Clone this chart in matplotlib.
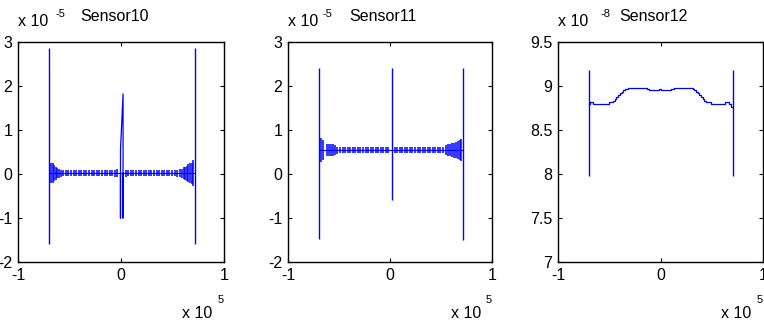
import numpy as np
import matplotlib
matplotlib.use('Agg')
import matplotlib.pyplot as plt

plt.rcParams['font.family'] = ['Liberation Sans', 'DejaVu Sans']
plt.rcParams['axes.unicode_minus'] = False

titles = ['Sensor10', 'Sensor11', 'Sensor12']
y_exponents = ['-5', '-5', '-8']
x_exponent = '5'

x_ticks = [-1, 0, 1]
x_ticklabels = ['-1', '0', '1']
y_ticks_a = [-2, -1, 0, 1, 2, 3]
y_ticklabels_a = ['-2', '-1', '0', '1', '2', '3']
y_ticks_b = [7, 7.5, 8, 8.5, 9, 9.5]
y_ticklabels_b = ['7', '7.5', '8', '8.5', '9', '9.5']

# ---- Sensor10 (x in 1e5, y in 1e-5) ----
s10_spike_x = [-0.70, 0.715]
s10_spike_lo = [-1.6, -1.6]
s10_spike_hi = [2.87, 2.87]
s10_base = 0.02
s10_base_x = [-0.70, 0.715]
s10_bar_x = [-0.675, -0.662, -0.649, -0.635, -0.62, -0.605, -0.585, -0.56, -0.535,
             -0.51, -0.485, -0.46, -0.435, -0.41, -0.385, -0.36, -0.335, -0.31,
             -0.285, -0.26, -0.235, -0.21, -0.185, -0.16, -0.135, -0.11, -0.085,
             -0.06, -0.035,
             0.045, 0.07, 0.095, 0.12, 0.145, 0.17, 0.195, 0.22, 0.245, 0.27,
             0.295, 0.32, 0.345, 0.37, 0.395, 0.42, 0.445, 0.47, 0.495, 0.52,
             0.545, 0.57, 0.59, 0.61, 0.625, 0.64, 0.655, 0.67, 0.685, 0.70]
s10_bar_amp = [0.23, 0.22, 0.18, 0.15, 0.12, 0.10, 0.08, 0.07, 0.07,
               0.06, 0.06, 0.06, 0.06, 0.06, 0.06, 0.06, 0.06, 0.06,
               0.06, 0.06, 0.06, 0.06, 0.06, 0.06, 0.06, 0.07, 0.07,
               0.08, 0.09,
               0.08, 0.07, 0.06, 0.06, 0.06, 0.06, 0.06, 0.06, 0.06, 0.06,
               0.06, 0.06, 0.06, 0.06, 0.06, 0.06, 0.06, 0.07, 0.07, 0.07,
               0.08, 0.09, 0.10, 0.13, 0.15, 0.17, 0.20, 0.22, 0.24, 0.30]
s10_mid_x = [-0.005, -0.005, -0.005, 0.02, 0.02, 0.02]
s10_mid_y = [0.02, -1.0, 0.55, 1.82, -1.0, 0.02]

# ---- Sensor11 (x in 1e5, y in 1e-5) ----
s11_spike_x = [-0.70, 0.015, 0.72]
s11_spike_lo = [-1.48, -0.58, -1.5]
s11_spike_hi = [2.42, 2.42, 2.42]
s11_base = 0.545
s11_base_x = [-0.70, 0.72]
s11_bar_x = [-0.673, -0.655, -0.62, -0.60, -0.58, -0.56, -0.54, -0.515,
             -0.49, -0.465, -0.44, -0.415, -0.39, -0.365, -0.34, -0.315,
             -0.29, -0.265, -0.24, -0.215, -0.19, -0.165, -0.14, -0.115,
             -0.09, -0.065, -0.04, -0.015,
             0.045, 0.07, 0.095, 0.12, 0.145, 0.17, 0.195, 0.22, 0.245, 0.27,
             0.295, 0.32, 0.345, 0.37, 0.395, 0.42, 0.445, 0.47, 0.495, 0.52,
             0.55, 0.57, 0.59, 0.61, 0.63, 0.65, 0.67, 0.685, 0.70]
s11_bar_amp = [0.27, 0.22, 0.14, 0.14, 0.13, 0.13, 0.12, 0.08,
               0.07, 0.06, 0.06, 0.06, 0.06, 0.06, 0.06, 0.06,
               0.06, 0.06, 0.06, 0.06, 0.06, 0.06, 0.06, 0.06,
               0.06, 0.06, 0.06, 0.06,
               0.06, 0.06, 0.06, 0.06, 0.06, 0.06, 0.06, 0.06, 0.06, 0.06,
               0.06, 0.06, 0.06, 0.06, 0.06, 0.06, 0.06, 0.06, 0.06, 0.06,
               0.12, 0.13, 0.13, 0.15, 0.17, 0.18, 0.2, 0.22, 0.26]

# ---- Sensor12 (x in 1e5, y in 1e-8) ----
s12_spike_x = [-0.70, 0.71]
s12_spike_lo = [7.98, 7.98]
s12_spike_hi = [9.18, 9.18]
s12_x = [-0.70, -0.685, -0.66, -0.50, -0.46, -0.447, -0.43, -0.415, -0.40,
         -0.38, -0.365, -0.35, -0.32, -0.133, -0.115, -0.01, 0.005, 0.10,
         0.135, 0.315, 0.33, 0.347, 0.363, 0.38, 0.395, 0.41, 0.427, 0.443,
         0.49, 0.63, 0.665, 0.69, 0.71]
s12_y = [8.80, 8.82, 8.79, 8.82, 8.835, 8.855, 8.875, 8.895, 8.915,
         8.93, 8.95, 8.965, 8.98, 8.965, 8.95, 8.965, 8.95, 8.965,
         8.98, 8.965, 8.95, 8.93, 8.915, 8.895, 8.875, 8.855, 8.835, 8.82,
         8.79, 8.82, 8.79, 8.76, 8.76]

blue = '#0000ff'

fig = plt.figure(figsize=(7.64, 3.2), dpi=100)
lefts = [18 / 764, 288 / 764, 558 / 764]
widths = [206 / 764, 204 / 764, 205 / 764]
bottom = 1 - 262 / 320
height = 220 / 320
axes = [fig.add_axes([l, bottom, w, height]) for l, w in zip(lefts, widths)]

# Sensor10
ax = axes[0]
ax.plot(s10_base_x, [s10_base, s10_base], color=blue, lw=0.8)
ax.vlines(s10_bar_x, [s10_base - a for a in s10_bar_amp],
          [s10_base + a for a in s10_bar_amp], color=blue, lw=1.1)
ax.vlines(s10_spike_x, s10_spike_lo, s10_spike_hi, color=blue, lw=1.0)
ax.plot(s10_mid_x, s10_mid_y, color=blue, lw=0.9)
ax.set_ylim(-2, 3)
ax.set_yticks(y_ticks_a)
ax.set_yticklabels(y_ticklabels_a)

# Sensor11
ax = axes[1]
ax.plot(s11_base_x, [s11_base, s11_base], color=blue, lw=0.8)
ax.vlines(s11_bar_x, [s11_base - a for a in s11_bar_amp],
          [s11_base + a for a in s11_bar_amp], color=blue, lw=1.1)
ax.vlines(s11_spike_x, s11_spike_lo, s11_spike_hi, color=blue, lw=1.0)
ax.set_ylim(-2, 3)
ax.set_yticks(y_ticks_a)
ax.set_yticklabels(y_ticklabels_a)

# Sensor12
ax = axes[2]
ax.plot(s12_x, s12_y, color=blue, lw=0.9, drawstyle='steps-post')
ax.vlines(s12_spike_x, s12_spike_lo, s12_spike_hi, color=blue, lw=1.0)
ax.set_ylim(7, 9.5)
ax.set_yticks(y_ticks_b)
ax.set_yticklabels(y_ticklabels_b)

exp_pos = [0.18, 0.17, 0.205]
for ax, title, yexp, ex in zip(axes, titles, y_exponents, exp_pos):
    ax.set_xlim(-1, 1)
    ax.set_xticks(x_ticks)
    ax.set_xticklabels(x_ticklabels)
    ax.tick_params(direction='in', length=3, width=0.8, top=True, right=True,
                   labelsize=11.5, colors='black')
    ax.tick_params(axis='x', pad=4)
    ax.tick_params(axis='y', pad=4)
    for s in ax.spines.values():
        s.set_linewidth(1.0)
    ax.text(0.30, 1.095, title, transform=ax.transAxes, fontsize=11.5,
            ha='left', va='baseline')
    ax.text(0.0, 1.072, 'x 10', transform=ax.transAxes, fontsize=11.5,
            ha='left', va='baseline')
    ax.text(ex, 1.115, yexp, transform=ax.transAxes, fontsize=8,
            ha='left', va='baseline')
    ax.text(0.945, -0.255, 'x 10', transform=ax.transAxes, fontsize=11.5,
            ha='right', va='baseline')
    ax.text(0.968, -0.188, x_exponent, transform=ax.transAxes, fontsize=8,
            ha='left', va='baseline')

fig.savefig('out.png', dpi=100)
